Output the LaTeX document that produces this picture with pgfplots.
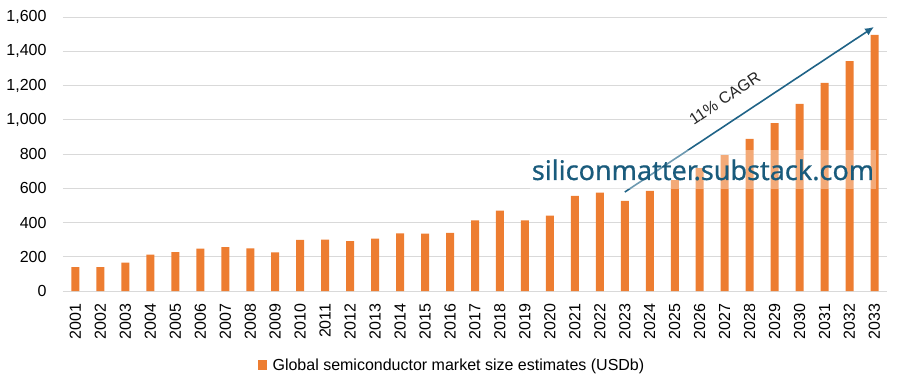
\documentclass[border=0pt]{standalone}
\usepackage{pgfplots}
\pgfplotsset{compat=1.18}
\usetikzlibrary{arrows.meta}
\usepackage{fontspec}
\setmainfont{Liberation Sans}
\newfontfamily\wmfont[FakeBold=0.6]{Noto Sans}
\definecolor{barorange}{HTML}{ED7D31}
\definecolor{teal}{HTML}{1F6387}
\definecolor{wmteal}{HTML}{195B7C}
\definecolor{gridgray}{HTML}{D9D9D9}
\begin{document}
\begin{tikzpicture}
\path[use as bounding box] (-63pt,-95pt) rectangle (839pt,291pt);
\begin{axis}[
  at={(0,0)}, anchor=south west,
  scale only axis, width=824pt, height=274pt,
  xmin=2000.5, xmax=2033.5, ymin=0, ymax=1600,
  ytick={0,200,...,1600},
  xtick={2001,...,2033},
  x tick label style={rotate=90, anchor=east, font=\fontsize{16}{16}\selectfont},
  y tick label style={font=\fontsize{16}{16}\selectfont},
  xticklabel style={/pgf/number format/1000 sep={}},
  yticklabel style={/pgf/number format/.cd,1000 sep={,}},
  /pgf/number format/assume math mode=true,
  xtick pos=bottom,
  major tick length=0pt,
  axis x line*=bottom,
  axis y line*=left,
  x axis line style={draw=gridgray, line width=0.8pt},
  y axis line style={draw=none},
  ymajorgrids, grid style={gridgray, line width=0.8pt},
  xticklabel shift=9pt,
  yticklabel shift=13pt,
  ybar, bar width=8pt,
  legend style={at={(0.472,-0.27)}, anchor=center, draw=none, fill=none,
    font=\fontsize{16}{16}\selectfont},
  legend image code/.code={\fill[barorange] (0pt,-5.5pt) rectangle (9pt,5pt);},
  clip=false,
]
\addplot[fill=barorange, draw=none] coordinates {
(2001,139) (2002,140) (2003,166) (2004,213) (2005,227) (2006,248) (2007,256)
(2008,249) (2009,226) (2010,298) (2011,300) (2012,291) (2013,306) (2014,336)
(2015,335) (2016,339) (2017,412) (2018,469) (2019,412) (2020,440) (2021,555)
(2022,574) (2023,526) (2024,584) (2025,648) (2026,718) (2027,794) (2028,888)
(2029,981) (2030,1092) (2031,1215) (2032,1343) (2033,1495)
};
\addlegendentry{\hspace{4pt}Global semiconductor market size estimates (USDb)}
\draw[teal, line width=1.6pt, -{Latex[length=9pt,width=8pt]}] (axis cs:2023.0,578) -- (axis cs:2032.98,1542);
\node[rotate=33.5, font=\fontsize{16}{16}\selectfont, text=black!85] at (axis cs:2027.0,1125) {11\% CAGR};
\node[fill=white, fill opacity=0.35, text opacity=1, text=wmteal, inner xsep=2pt, inner ysep=9pt,
  font=\wmfont\fontsize{27}{27}\selectfont] at (axis cs:2026.13,707) {siliconmatter.substack.com};
\end{axis}
\end{tikzpicture}
\end{document}
